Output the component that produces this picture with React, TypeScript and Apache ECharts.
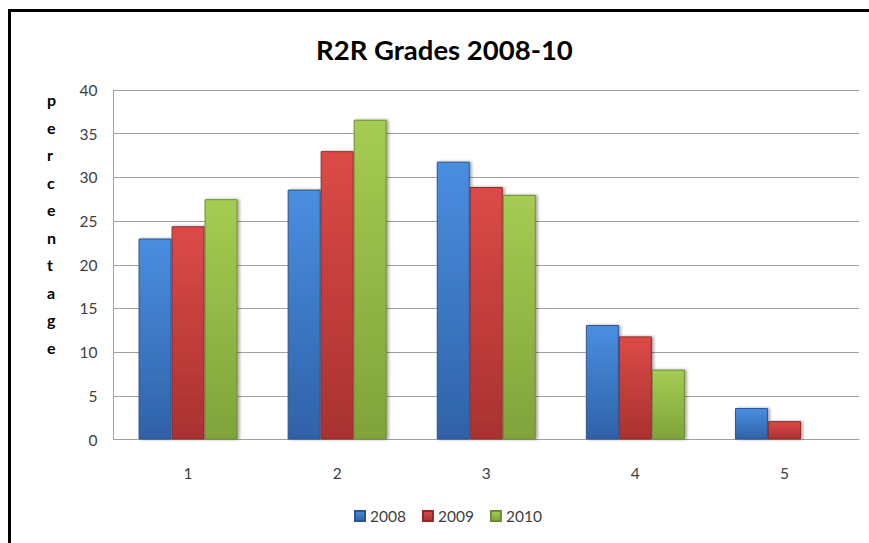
import React, { useEffect, useRef } from "react";
import * as echarts from "echarts";

const title = "R2R Grades 2008-10";
const categories = ["1", "2", "3", "4", "5"];
const seriesNames = ["2008", "2009", "2010"];
const values2008 = [23.0, 28.6, 31.8, 13.1, 3.6];
const values2009 = [24.4, 33.0, 28.9, 11.8, 2.1];
const values2010 = [27.5, 36.6, 28.0, 8.0, 0];
const yTicks = { min: 0, max: 40, interval: 5 };
const yAxisLetters = "percentage".split("");

const palette = [
  { top: "#4a8ee0", bottom: "#2f62a8", border: "#2a5590" },
  { top: "#dc4a47", bottom: "#a93230", border: "#8f2a28" },
  { top: "#a5cc52", bottom: "#80a33a", border: "#6d8c30" },
];

function grad(c: { top: string; bottom: string }) {
  return new echarts.graphic.LinearGradient(0, 0, 0, 1, [
    { offset: 0, color: c.top },
    { offset: 1, color: c.bottom },
  ]);
}

export default function App() {
  const ref = useRef<HTMLDivElement>(null);
  useEffect(() => {
    if (!ref.current) return;
    const chart = echarts.init(ref.current, null, { renderer: "svg" });
    const data = [values2008, values2009, values2010];
    chart.setOption({
      animation: false,
      backgroundColor: "#ffffff",
      textStyle: { fontFamily: "Lato" },
      title: {
        text: title,
        left: 311,
        top: 30,
        textStyle: { fontFamily: "Lato", fontSize: 27.5, fontWeight: "bold", color: "#000000" },
      },
      graphic: [
        {
          type: "rect",
          shape: { x: 9.5, y: 10.5, width: 1000, height: 1000 },
          style: { fill: "none", stroke: "#000000", lineWidth: 3 },
          silent: true,
        },
        {
          type: "text",
          left: 47,
          top: 86,
          style: {
            text: yAxisLetters.join("\n"),
            fontFamily: "Lato",
            fontSize: 16,
            fontWeight: "bold",
            lineHeight: 27.5,
            fill: "#000000",
            align: "center",
          },
        },
      ],
      legend: {
        data: seriesNames,
        bottom: 14,
        left: 349,
        itemWidth: 10,
        itemHeight: 10,
        itemGap: 16,
        icon: "rect",
        textStyle: { fontFamily: "Lato", fontSize: 15.5, color: "#404040" },
      },
      grid: { left: 113.5, right: 10, top: 90, bottom: 103.5, containLabel: false },
      xAxis: {
        type: "category",
        data: categories,
        axisLine: { show: true, lineStyle: { color: "#a0a0a0", width: 1 } },
        axisTick: { show: false },
        axisLabel: { margin: 25, fontSize: 15.5, color: "#404040", fontFamily: "Lato" },
      },
      yAxis: {
        type: "value",
        min: yTicks.min,
        max: yTicks.max,
        interval: yTicks.interval,
        axisLine: { show: true, lineStyle: { color: "#a0a0a0", width: 1 } },
        axisTick: { show: false },
        axisLabel: { margin: 16, fontSize: 15.5, color: "#404040", fontFamily: "Lato" },
        splitLine: { show: true, lineStyle: { color: "#a0a0a0", width: 1 } },
      },
      series: seriesNames.map((name, i) => ({
        name,
        type: "bar",
        data: data[i],
        barWidth: 33,
        barGap: "0%",
        barCategoryGap: "33%",
        itemStyle: {
          color: grad(palette[i]),
          borderColor: palette[i].border,
          borderWidth: 1,
          shadowColor: "rgba(0,0,0,0.35)",
          shadowBlur: 3,
          shadowOffsetX: 2,
          shadowOffsetY: 0,
        },
      })),
    });
    return () => chart.dispose();
  }, []);
  return (
    <div
      ref={ref}
      style={{ position: "absolute", left: 0, top: 0, width: 869, height: 543 }}
    />
  );
}
